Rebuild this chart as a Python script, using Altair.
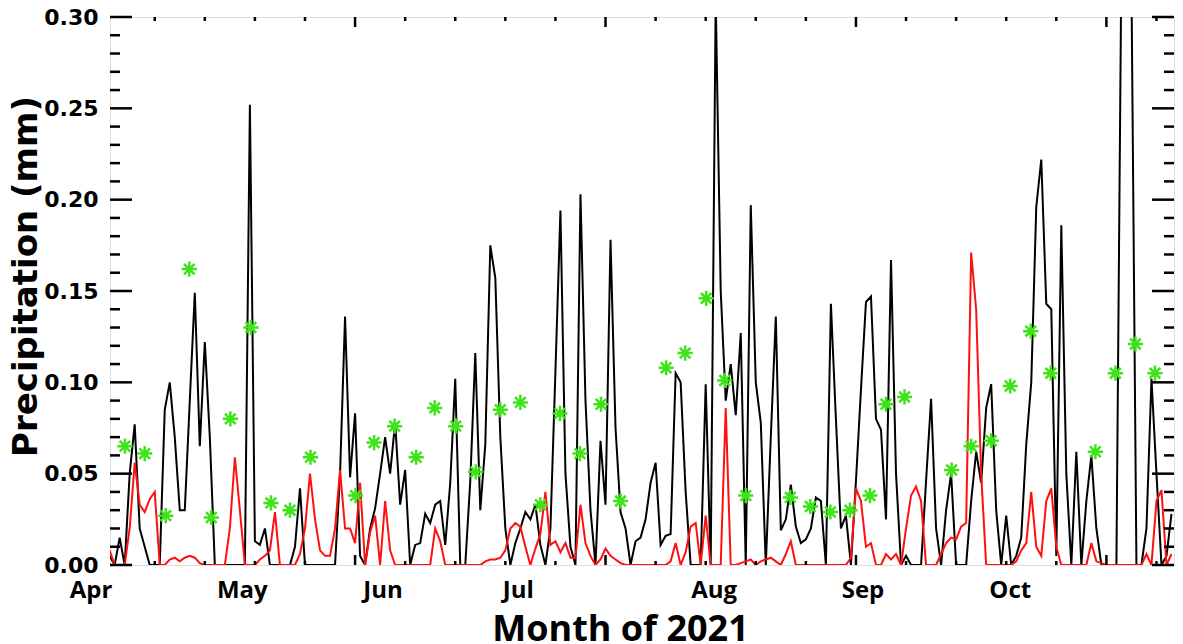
import altair as alt
import pandas as pd

# ---------------- data ----------------
days = list(range(1, 214))  # day index of the period (1 = 1 Apr 2021)

black = [
    0.005, 0.0, 0.015, 0.0, 0.05, 0.077, 0.02, 0.01, 0.0, 0.0,
    0.0, 0.085, 0.10, 0.07, 0.03, 0.03, 0.09, 0.149, 0.065, 0.122,
    0.07, 0.0, 0.0, 0.0, 0.0, 0.0, 0.0, 0.0, 0.252, 0.013,
    0.011, 0.02, 0.0, 0.0, 0.0, 0.0, 0.0, 0.01, 0.042, 0.0,
    0.0, 0.0, 0.0, 0.0, 0.0, 0.0, 0.05, 0.136, 0.048, 0.083,
    0.005, 0.0, 0.02, 0.031, 0.05, 0.07, 0.05, 0.078, 0.033, 0.052,
    0.0, 0.011, 0.012, 0.028, 0.023, 0.033, 0.035, 0.011, 0.045, 0.102,
    0.0, 0.0, 0.046, 0.116, 0.03, 0.066, 0.175, 0.157, 0.07, 0.02,
    0.0, 0.012, 0.02, 0.029, 0.025, 0.033, 0.011, 0.0, 0.02, 0.106,
    0.194, 0.05, 0.01, 0.0, 0.203, 0.09, 0.03, 0.0, 0.068, 0.033,
    0.178, 0.075, 0.029, 0.02, 0.0, 0.013, 0.015, 0.025, 0.045, 0.056,
    0.011, 0.016, 0.017, 0.105, 0.10, 0.04, 0.0, 0.0, 0.0, 0.099,
    0.0, 0.31, 0.15, 0.09, 0.11, 0.082, 0.127, 0.0, 0.197, 0.10,
    0.078, 0.0, 0.07, 0.136, 0.019, 0.025, 0.044, 0.021, 0.012, 0.014,
    0.02, 0.037, 0.035, 0.0, 0.143, 0.08, 0.02, 0.027, 0.0, 0.046,
    0.096, 0.144, 0.147, 0.08, 0.074, 0.025, 0.167, 0.05, 0.0, 0.005,
    0.0, 0.0, 0.0, 0.046, 0.091, 0.02, 0.0, 0.03, 0.05, 0.0,
    0.0, 0.0, 0.035, 0.062, 0.045, 0.086, 0.099, 0.03, 0.0, 0.027,
    0.0, 0.005, 0.015, 0.066, 0.10, 0.196, 0.222, 0.143, 0.14, 0.005,
    0.186, 0.05, 0.0, 0.062, 0.0, 0.035, 0.06, 0.02, 0.0, 0.0,
    0.0, 0.0, 0.33, 0.45, 0.32, 0.0, 0.0, 0.02, 0.102, 0.05,
    0.0, 0.005, 0.028,
]

red = [
    0.008, 0.0, 0.0, 0.0, 0.02, 0.056, 0.033, 0.029, 0.036, 0.04,
    0.0, 0.0, 0.003, 0.004, 0.002, 0.004, 0.005, 0.004, 0.001, 0.0,
    0.0, 0.0, 0.0, 0.0, 0.02, 0.059, 0.03, 0.0, 0.0, 0.0,
    0.003, 0.005, 0.008, 0.029, 0.0, 0.0, 0.0, 0.0, 0.006, 0.02,
    0.05, 0.025, 0.008, 0.005, 0.005, 0.02, 0.052, 0.02, 0.02, 0.012,
    0.045, 0.0, 0.018, 0.027, 0.0, 0.035, 0.008, 0.0, 0.0, 0.0,
    0.0, 0.0, 0.0, 0.0, 0.0, 0.02, 0.013, 0.0, 0.0, 0.0,
    0.0, 0.0, 0.0, 0.0, 0.0, 0.002, 0.003, 0.003, 0.004, 0.008,
    0.02, 0.023, 0.021, 0.01, 0.0, 0.009, 0.017, 0.04, 0.011, 0.013,
    0.007, 0.012, 0.004, 0.004, 0.033, 0.012, 0.005, 0.0, 0.003, 0.009,
    0.005, 0.003, 0.001, 0.0, 0.0, 0.0, 0.0, 0.0, 0.0, 0.0,
    0.0, 0.0, 0.002, 0.012, 0.0, 0.007, 0.021, 0.023, 0.0, 0.027,
    0.0, 0.0, 0.0, 0.086, 0.0, 0.0, 0.001, 0.002, 0.003, 0.0,
    0.002, 0.003, 0.004, 0.002, 0.0, 0.006, 0.013, 0.0, 0.0, 0.0,
    0.0, 0.0, 0.0, 0.0, 0.0, 0.0, 0.0, 0.0, 0.004, 0.042,
    0.035, 0.01, 0.012, 0.0, 0.0, 0.006, 0.003, 0.006, 0.0, 0.02,
    0.038, 0.043, 0.035, 0.0, 0.0, 0.0, 0.006, 0.012, 0.015, 0.014,
    0.021, 0.023, 0.171, 0.14, 0.05, 0.0, 0.0, 0.0, 0.0, 0.0,
    0.0, 0.002, 0.008, 0.012, 0.04, 0.01, 0.005, 0.035, 0.042, 0.01,
    0.0, 0.0, 0.0, 0.0, 0.0, 0.0, 0.012, 0.002, 0.001, 0.0,
    0.0, 0.0, 0.0, 0.0, 0.0, 0.0, 0.0, 0.006, 0.0, 0.035,
    0.041, 0.0, 0.006,
]

star_day = [
    4.05, 8.0, 12.2, 16.9, 21.3, 25.1, 29.2, 33.2, 37.0, 41.1,
    50.1, 53.8, 57.9, 62.2, 65.9, 70.1, 74.1, 79.0, 83.0, 87.0,
    90.9, 94.9, 99.1, 103.0, 112.1, 115.9, 120.1, 123.8, 128.0, 136.9,
    140.9, 144.9, 148.8, 152.8, 156.0, 159.7, 169.1, 173.0, 177.0, 180.8,
    184.9, 188.9, 197.8, 201.8, 205.8, 209.7,
]
star_val = [
    0.065, 0.061, 0.027, 0.162, 0.026, 0.080, 0.130, 0.034, 0.030, 0.059,
    0.038, 0.067, 0.076, 0.059, 0.086, 0.076, 0.051, 0.085, 0.089, 0.033,
    0.083, 0.061, 0.088, 0.035, 0.108, 0.116, 0.146, 0.101, 0.038, 0.037,
    0.032, 0.029, 0.030, 0.038, 0.088, 0.092, 0.052, 0.065, 0.068, 0.098,
    0.128, 0.105, 0.062, 0.105, 0.121, 0.105,
]

month_names = ["Apr", "May", "Jun", "Jul", "Aug", "Sep", "Oct"]
month_pos = [-2.7, 27.5, 55.6, 82.6, 121.7, 151.4, 180.8]

y_major = [0.00, 0.05, 0.10, 0.15, 0.20, 0.25, 0.30]
y_minor = [0.01, 0.02, 0.03, 0.04, 0.06, 0.07, 0.08, 0.09, 0.11, 0.12, 0.13,
           0.14, 0.16, 0.17, 0.18, 0.19, 0.21, 0.22, 0.23, 0.24, 0.26, 0.27,
           0.28, 0.29]
x_major = [50, 100, 150, 200]
x_minor = [10, 20, 30, 40, 60, 70, 80, 90, 110, 120, 130, 140, 160, 170, 180,
           190, 210]

# ---------------- chart ----------------
W, H = 1064, 548
xs = alt.Scale(domain=[1.07, 213.5], nice=False, zero=False)
ys = alt.Scale(domain=[0.0, 0.30], nice=False, zero=False)

df = pd.DataFrame({"day": days, "black": black, "red": red})
df_star = pd.DataFrame({"day": star_day, "val": star_val})
df_month = pd.DataFrame({"pos": month_pos, "name": month_names})

y_axis = alt.Axis(
    values=y_major, format=".2f", ticks=False, domain=False, grid=False,
    labelFont="DejaVu Sans", labelFontWeight="bold", labelFontSize=22,
    labelColor="black", labelPadding=12, labelFlush=False,
    title="Precipitation (mm)", titleFont="DejaVu Sans", titleFontWeight="bold",
    titleFontSize=34, titleColor="black", titleAngle=270, titleX=-84,
    titleY=259, titleAlign="center", titleBaseline="middle",
)
x_axis = alt.Axis(
    labels=False, ticks=False, domain=False, grid=False,
    title="Month of 2021", titleFont="Open Sans", titleFontWeight="bold",
    titleFontSize=36, titleColor="black", titleX=510, titleY=75,
    titleAlign="center", titleBaseline="alphabetic",
)


def X(field):
    return alt.X(field, scale=xs, axis=x_axis, title="Month of 2021")


def Y(field):
    return alt.Y(field, scale=ys, axis=y_axis, title="Precipitation (mm)")


black_line = alt.Chart(df).mark_line(color="black", strokeWidth=2, clip=True).encode(
    x=X("day:Q"), y=Y("black:Q"),
)
red_line = alt.Chart(df).mark_line(color="#ff1010", strokeWidth=2, clip=True).encode(
    x=X("day:Q"), y=Y("red:Q"),
)
ASTER = "M-1,0L1,0M0,-1L0,1M-0.7,-0.7L0.7,0.7M-0.7,0.7L0.7,-0.7"
stars = alt.Chart(df_star).mark_point(
    shape=ASTER, filled=False, color="#3fe31a", strokeWidth=2.5, size=230, opacity=1
).encode(
    x=X("day:Q"), y=Y("val:Q"),
)


def yticks(vals, length, right=False):
    d = pd.DataFrame({"v": vals})
    x0 = W if right else 0
    x1 = W - length if right else length
    return alt.Chart(d).mark_rule(color="black", strokeWidth=2.5).encode(
        y=Y("v:Q"), x=alt.value(x0), x2=alt.value(x1),
    )


def xticks(vals, length, bottom=False):
    d = pd.DataFrame({"v": vals})
    y0 = H if bottom else 0
    y1 = H - length if bottom else length
    return alt.Chart(d).mark_rule(color="black", strokeWidth=2.5).encode(
        x=X("v:Q"), y=alt.value(y0), y2=alt.value(y1),
    )


months = alt.Chart(df_month).mark_text(
    font="Open Sans", fontWeight="bold", fontSize=24, color="black",
    align="center", baseline="alphabetic",
).encode(
    x=X("pos:Q"), y=alt.value(H + 33), text="name:N",
)

chart = alt.layer(
    black_line, red_line, stars,
    yticks(y_major, 22), yticks(y_minor, 10),
    yticks(y_major, 22, right=True), yticks(y_minor, 10, right=True),
    xticks(x_major, 10), xticks(x_minor, 4),
    xticks(x_major, 10, bottom=True), xticks(x_minor, 4, bottom=True),
    months,
).properties(
    width=W, height=H,
    autosize=alt.AutoSizeParams(type="none"),
    padding={"left": 102, "top": 9, "right": 1, "bottom": 79},
).configure_view(
    stroke="black", strokeWidth=2.5
).configure(background="white")

chart.save("out.html", embed_options={"renderer": "svg", "actions": False})
